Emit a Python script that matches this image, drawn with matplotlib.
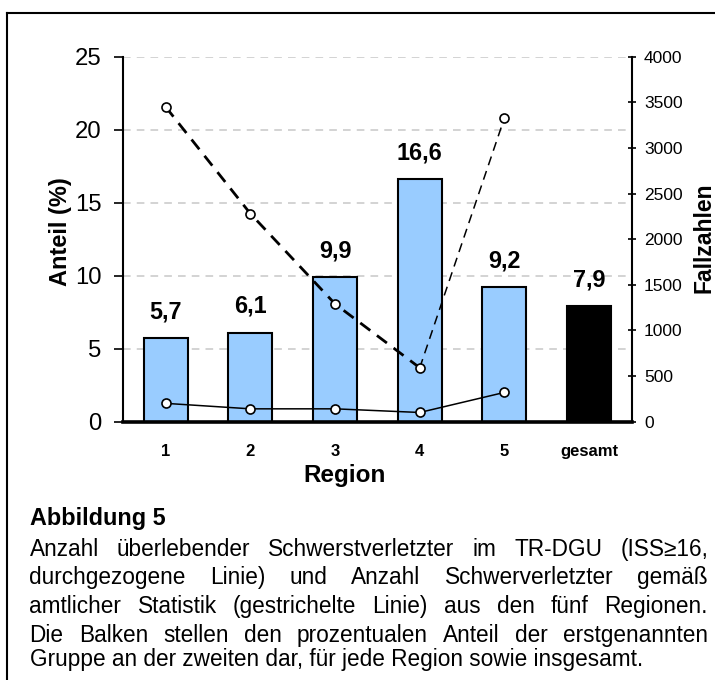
import numpy as np
import matplotlib
matplotlib.use('Agg')
import matplotlib.pyplot as plt
from matplotlib.lines import Line2D

plt.rcParams['font.family'] = ['Liberation Sans', 'DejaVu Sans']

# data
regions = ['1', '2', '3', '4', '5', 'gesamt']
anteil = [5.7, 6.1, 9.9, 16.6, 9.2, 7.9]
anteil_labels = ['5,7', '6,1', '9,9', '16,6', '9,2', '7,9']
trdgu = [200, 140, 140, 100, 320]        # durchgezogene Linie
amtlich = [3450, 2280, 1290, 590, 3330]  # gestrichelte Linie
bar_colors = ['#99CCFF'] * 5 + ['black']
left_ticks = [0, 5, 10, 15, 20, 25]
right_ticks = [0, 500, 1000, 1500, 2000, 2500, 3000, 3500, 4000]

caption_title = 'Abbildung 5'
caption_lines = [
    'Anzahl überlebender Schwerstverletzter im TR-DGU (ISS≥16,',
    'durchgezogene Linie) und Anzahl Schwerverletzter gemäß',
    'amtlicher Statistik (gestrichelte Linie) aus den fünf Regionen.',
    'Die Balken stellen den prozentualen Anteil der erstgenannten',
    'Gruppe an der zweiten dar, für jede Region sowie insgesamt.',
]

W, H = 715, 680
fig = plt.figure(figsize=(W / 100, H / 100), dpi=100)

def fx(px):
    return px / W

def fy(py):
    return 1 - py / H

ax = fig.add_axes([fx(123.3), fy(421.6), (631.5 - 123.3) / W, (421.6 - 56.7) / H])
x = np.arange(1, len(regions) + 1)

ax.bar(x, anteil, width=0.52, color=bar_colors, edgecolor='black', linewidth=1.5, zorder=2)
for xi, v, lab in zip(x, anteil, anteil_labels):
    ax.annotate(lab, (xi, v), xytext=(0, 14.4), textcoords='offset points',
                ha='center', va='baseline', fontsize=16.8, fontweight='bold')

ax.set_xlim(0.5, 6.5)
ax.set_ylim(0, 25)
ax.set_yticks(left_ticks)
ax.set_xticks(x)
ax.set_xticklabels(regions, fontweight='bold', fontsize=12)
ax.yaxis.grid(True, color='#c8c8c8', linestyle=(0, (5, 4)), linewidth=1.1)
ax.set_axisbelow(True)
ax.spines['top'].set_visible(False)
ax.spines['right'].set_visible(False)
ax.spines['left'].set_linewidth(1.5)
ax.spines['bottom'].set_linewidth(2.6)
ax.tick_params(axis='y', direction='out', length=6.5, width=1.2, pad=9, labelsize=17.2)
ax.tick_params(axis='x', length=0, pad=16)

ax2 = ax.twinx()
ax2.set_ylim(0, 4000)
ax2.set_yticks(right_ticks)
for s in ['top', 'left', 'bottom']:
    ax2.spines[s].set_visible(False)
ax2.spines['right'].set_linewidth(1.5)
ax2.tick_params(axis='y', direction='inout', length=6, width=1.2, pad=6, labelsize=12.5)

n = len(trdgu)
ax2.plot(x[:n], trdgu, color='black', lw=1.1, zorder=3)
ax2.plot(x[:4], amtlich[:4], color='black', lw=2.0, dashes=(4.5, 3), zorder=3)
ax2.plot(x[3:n], amtlich[3:n], color='black', lw=1.1, dashes=(6, 4), zorder=3)
mk = dict(ls='none', marker='o', ms=6.5, mfc='white', mec='black', mew=1.2, zorder=4)
ax2.plot(x[:n], trdgu, **mk)
ax2.plot(x[:n], amtlich, **mk)

# axis titles
fig.text(fx(60), fy(232), 'Anteil (%)', rotation=90, ha='center', va='center',
         fontsize=17, fontweight='bold')
fig.text(fx(704), fy(237.5), 'Fallzahlen', rotation=90, ha='center', va='center',
         fontsize=16.5, fontweight='bold')
fig.text(fx(345), fy(482), 'Region', ha='center', va='baseline',
         fontsize=17.5, fontweight='bold')

# frame (only top and left edges are inside the picture)
fig.add_artist(Line2D([fx(7.3), fx(7.3)], [0, fy(12.7)], color='black', lw=1.5))
fig.add_artist(Line2D([fx(7.3), 1], [fy(12.7), fy(12.7)], color='black', lw=1.5))

# caption, justified
fig.text(fx(29.5), fy(525), caption_title, fontsize=16.8, fontweight='bold', va='baseline')
baselines = [555.7, 584.3, 613.3, 641.7, 666]
renderer = fig.canvas.get_renderer()
x0, x1 = 29.5, 708
for i, line in enumerate(caption_lines):
    if i == len(caption_lines) - 1:
        fig.text(fx(x0), fy(baselines[i]), line, fontsize=16.3, va='baseline')
        continue
    words = line.split(' ')
    texts = [fig.text(0, fy(baselines[i]), w, fontsize=16.3, va='baseline') for w in words]
    widths = [t.get_window_extent(renderer).width for t in texts]
    gap = (x1 - x0 - sum(widths)) / (len(words) - 1)
    pos = x0
    for t, w in zip(texts, widths):
        t.set_x(fx(pos))
        pos += w + gap

fig.savefig('out.png', dpi=100)
